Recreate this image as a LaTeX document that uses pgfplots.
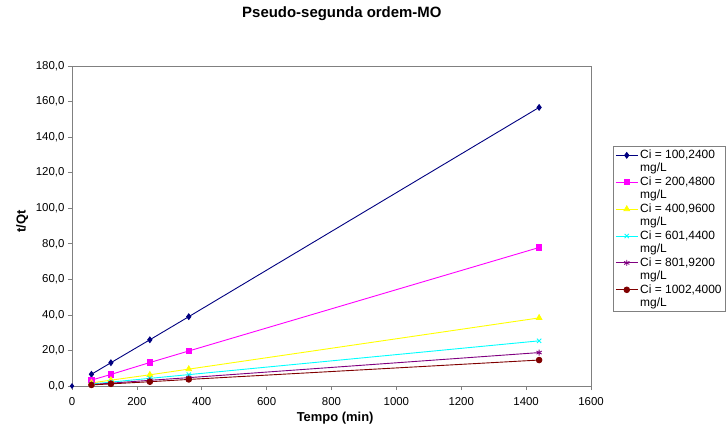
\documentclass[border=0pt]{standalone}
\usepackage{fontspec}
\setmainfont{Liberation Sans}
\usepackage{pgfplots}
\pgfplotsset{compat=1.18}

\definecolor{axgray}{HTML}{808080}
\definecolor{sNavy}{HTML}{000080}
\definecolor{sMag}{HTML}{FF00FF}
\definecolor{sYel}{HTML}{FFFF00}
\definecolor{sCyan}{HTML}{00FFFF}
\definecolor{sPurp}{HTML}{800080}
\definecolor{sRed}{HTML}{800000}

\begin{document}
\begin{tikzpicture}
\begin{axis}[
    scale only axis,
    width=519bp, height=320bp,
    xmin=0, xmax=1600, ymin=0, ymax=180,
    xtick={0,200,...,1600},
    ytick={0,20,...,180},
    xtick pos=left, ytick pos=left,
    tick align=outside,
    major tick length=4bp,
    every tick/.style={axgray, line width=0.6bp},
    axis line style={axgray, line width=0.6bp},
    /pgf/number format/assume math mode=true,
    x tick label style={font=\fontsize{11.5}{13}\selectfont, yshift=-4bp, /pgf/number format/1000 sep=},
    y tick label style={font=\fontsize{11.5}{13}\selectfont,
        /pgf/number format/.cd, fixed, fixed zerofill, precision=1, use comma},
    title={\bfseries Pseudo-segunda ordem-MO},
    title style={font=\fontsize{15}{17}\selectfont, at={(rel axis cs:0.52,1.144)}, anchor=center, yshift=0pt},
    xlabel={\bfseries Tempo (min)},
    ylabel={\bfseries t/Qt},
    label style={font=\fontsize{13}{15}\selectfont},
    x label style={at={(rel axis cs:0.507,-0.102)}, anchor=center},
    y label style={at={(rel axis cs:-0.096,0.515)}, anchor=center},
    legend style={at={(rel axis cs:1.0424,0.75)}, anchor=north west,
        draw=axgray, line width=0.6bp,
        font=\fontsize{12}{12.8}\selectfont,
        cells={align=left, anchor=west},
        inner sep=2bp, row sep=0bp},
    legend image code/.code={%
        \draw[mark repeat=2, mark phase=2] plot coordinates {(0bp,6.4bp) (11bp,6.4bp) (22bp,6.4bp)};},
    every axis plot/.append style={line width=0.9bp},
]
\coordinate (O) at (rel axis cs:0,0);
\addplot[sNavy, only marks, mark=diamond*, mark size=2.2bp, forget plot] coordinates {(0,0)};
\addplot[sNavy, mark=diamond*, mark size=2.8bp] coordinates {(60,6.6) (120,13.1) (240,26.0) (360,39.0) (1440,156.7)};
\addplot[sMag, mark=square*, mark size=2.6bp] coordinates {(60,3.3) (120,6.5) (240,13.2) (360,19.7) (1440,77.9)};
\addplot[sYel, mark=triangle*, mark size=3.2bp] coordinates {(60,1.7) (120,3.3) (240,6.3) (360,9.5) (1440,38.3)};
\addplot[sCyan, mark=x, mark size=3bp] coordinates {(60,1.1) (120,2.2) (240,4.3) (360,6.4) (1440,25.4)};
\addplot[sPurp, mark=asterisk, mark size=3bp] coordinates {(60,0.8) (120,1.6) (240,3.2) (360,4.7) (1440,18.8)};
\addplot[sRed, mark=*, mark size=2.8bp] coordinates {(60,0.6) (120,1.2) (240,2.4) (360,3.7) (1440,14.6)};
\legend{{Ci = 100,2400\\mg/L}, {Ci = 200,4800\\mg/L}, {Ci = 400,9600\\mg/L},
        {Ci = 601,4400\\mg/L}, {Ci = 801,9200\\mg/L}, {Ci = 1002,4000\\mg/L}}
\end{axis}
\draw[axgray, line width=0.6bp] (O) ++(0,320bp) -- ++(519bp,0) -- ++(0,-320bp);
\pgfresetboundingbox
\path ([shift={(-72bp,-43bp)}]O) rectangle ([shift={(654bp,386bp)}]O);
\end{tikzpicture}
\end{document}
